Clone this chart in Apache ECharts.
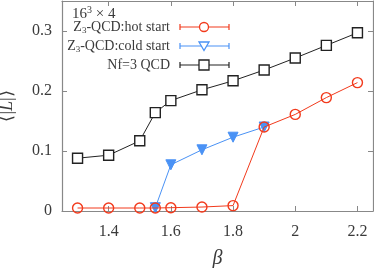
<!DOCTYPE html>
<html><head><meta charset="utf-8">
<script src="https://cdn.jsdelivr.net/npm/echarts@6/dist/echarts.min.js"></script>
<style>html,body{margin:0;padding:0;background:#fff}#c{width:374px;height:268px}</style>
</head><body><div id="c"></div>
<script>
var betaHot = [1.3, 1.4, 1.5, 1.55, 1.6, 1.7, 1.8, 1.9, 2.0, 2.1, 2.2];
var lHot    = [0.005, 0.005, 0.005, 0.005, 0.0055, 0.0066, 0.009, 0.140, 0.161, 0.189, 0.214];
var betaCold = [1.55, 1.6, 1.7, 1.8, 1.9];
var lCold    = [0.0055, 0.077, 0.102, 0.123, 0.140];
var betaNf = [1.3, 1.4, 1.5, 1.55, 1.6, 1.7, 1.8, 1.9, 2.0, 2.1, 2.2];
var lNf    = [0.088, 0.093, 0.117, 0.164, 0.184, 0.202, 0.217, 0.235, 0.255, 0.276, 0.297];
var xTicks = [1.4, 1.6, 1.8, 2, 2.2];
var yTicks = [0, 0.1, 0.2, 0.3];

var RED = '#f23a1c', BLUE = '#4a92f5', BLACK = '#222222', AX = '#888888', TXT = '#3a3a3a';
var FONT = '"Liberation Serif"';
function pairs(xs, ys){ return xs.map(function(x,i){ return [x, ys[i]]; }); }

var chart = echarts.init(document.getElementById('c'), null, {renderer:'canvas'});
var gridL = 62, gridR = 1, gridT = 1, gridB = 57;

var richLeg = {
  n:{font:'14px ' + FONT, fill:TXT},
  s:{font:'9px ' + FONT, fill:TXT, padding:[8,0,0,0]}
};

function legendRow(y, color, kind, label){
  var x0 = 180, x1 = 229, xm = 204;
  var els = [
    {type:'line', shape:{x1:x0,y1:y,x2:x1,y2:y}, style:{stroke:color, lineWidth:1.2}},
    {type:'line', shape:{x1:x0,y1:y-3,x2:x0,y2:y+3}, style:{stroke:color, lineWidth:1.2}},
    {type:'line', shape:{x1:x1,y1:y-3,x2:x1,y2:y+3}, style:{stroke:color, lineWidth:1.2}}
  ];
  if (kind === 'circle') els.push({type:'circle', shape:{cx:xm,cy:y,r:4.5}, style:{fill:'#fff', stroke:color, lineWidth:1.3}});
  if (kind === 'tri') els.push({type:'polygon', shape:{points:[[xm-5,y-4],[xm+5,y-4],[xm,y+4.5]]}, style:{fill:'#fff', stroke:color, lineWidth:1.3}});
  if (kind === 'sq') els.push({type:'rect', shape:{x:xm-5,y:y-5,width:10,height:10}, style:{fill:'#fff', stroke:color, lineWidth:1.3}});
  els.push({type:'text', x:170, y:y, style:{text:label, fill:TXT, font:'14px ' + FONT, align:'right', verticalAlign:'middle', rich:richLeg}});
  return els;
}

var graphics = [].concat(
  [{type:'text', x:72, y:14, style:{text:'{n|16}{p|3}{n| × 4}', verticalAlign:'middle', fill:TXT, font:'15px ' + FONT,
     rich:{n:{font:'15px ' + FONT, fill:TXT}, p:{font:'10px ' + FONT, fill:TXT, padding:[0,0,8,0]}}}}],
  legendRow(27, RED, 'circle', '{n|Z}{s|3}{n|-QCD:hot start}'),
  legendRow(46, BLUE, 'tri', '{n|Z}{s|3}{n|-QCD:cold start}'),
  legendRow(65, BLACK, 'sq', '{n|Nf=3 QCD}')
);

var option = {
  animation:false,
  backgroundColor:'#fff',
  grid:{left:gridL, right:gridR, top:gridT, bottom:gridB, containLabel:false, outerBoundsMode:'none'},
  xAxis:[{
    type:'value', min:1.25, max:2.25, interval:0.2,
    axisLine:{show:true, onZero:false, lineStyle:{color:AX, width:1.2}},
    axisTick:{show:true, inside:true, length:5, lineStyle:{color:AX}, customValues:xTicks},
    splitLine:{show:false},
    axisLabel:{color:TXT, fontSize:16, fontFamily:'Liberation Serif', margin:13, customValues:xTicks,
      formatter:function(v){ return String(Math.round(v*10)/10); }},
    name:'β', nameLocation:'middle', nameGap:38,
    nameTextStyle:{color:TXT, fontSize:20, fontFamily:'Liberation Serif', fontStyle:'italic'}
  },{
    type:'value', min:1.25, max:2.25, position:'top',
    axisLine:{show:true, onZero:false, lineStyle:{color:AX, width:1.2}},
    axisTick:{show:true, inside:true, length:5, lineStyle:{color:AX}, customValues:xTicks},
    axisLabel:{show:false}, splitLine:{show:false}
  }],
  yAxis:[{
    type:'value', min:0, max:0.35, interval:0.1,
    axisLine:{show:true, onZero:false, lineStyle:{color:AX, width:1.2}},
    axisTick:{show:true, inside:true, length:5, lineStyle:{color:AX}, customValues:yTicks},
    splitLine:{show:false},
    axisLabel:{color:TXT, fontSize:16, fontFamily:'Liberation Serif', margin:10, customValues:yTicks,
      formatter:function(v){ return String(Math.round(v*10)/10); }},
    name:'{a|⟨|}{b|L}{a||⟩}', nameLocation:'middle', nameGap:46, nameRotate:90,
    nameTextStyle:{color:TXT, rich:{a:{fontSize:18, fontFamily:'Liberation Serif', color:TXT}, b:{fontSize:18, fontFamily:'Liberation Serif', fontStyle:'italic', color:TXT}}}
  },{
    type:'value', min:0, max:0.35, position:'right',
    axisLine:{show:true, onZero:false, lineStyle:{color:AX, width:1.2}},
    axisTick:{show:true, inside:true, length:5, lineStyle:{color:AX}, customValues:yTicks},
    axisLabel:{show:false}, splitLine:{show:false}
  }],
  series:[
    {type:'line', name:'Nf=3 QCD', data:pairs(betaNf, lNf), symbol:'rect', symbolSize:10,
      lineStyle:{color:BLACK, width:1}, itemStyle:{color:'#fff', borderColor:BLACK, borderWidth:1.4}, z:2},
    {type:'line', name:'Z3-QCD:cold start', data:pairs(betaCold, lCold), symbol:'triangle', symbolRotate:180, symbolSize:10,
      lineStyle:{color:BLUE, width:1}, itemStyle:{color:BLUE, borderColor:BLUE, borderWidth:1}, z:3},
    {type:'line', name:'Z3-QCD:hot start', data:pairs(betaHot, lHot), symbol:'circle', symbolSize:10,
      lineStyle:{color:RED, width:1}, itemStyle:{color:'rgba(255,255,255,0)', borderColor:RED, borderWidth:1.4}, z:4}
  ],
  graphic:graphics
};
chart.setOption(option);
</script></body></html>
